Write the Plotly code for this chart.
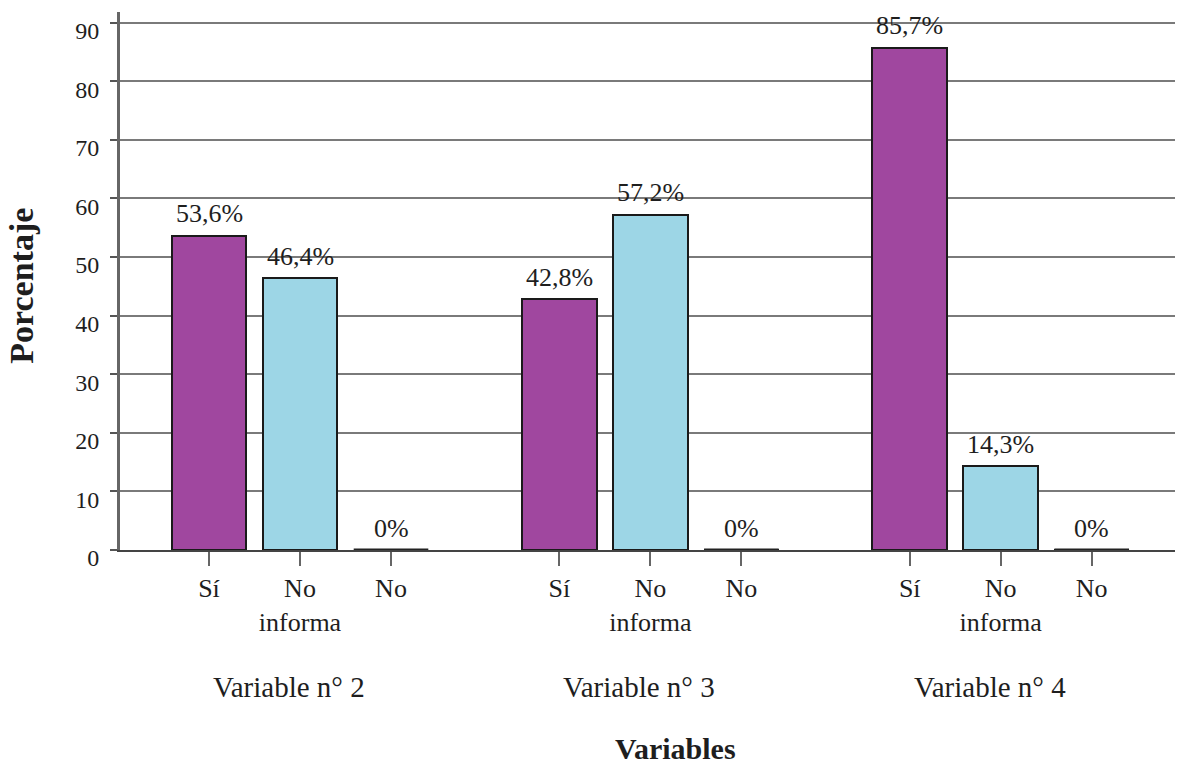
import plotly.graph_objects as go

# Data
groups = ["Variable n° 2", "Variable n° 3", "Variable n° 4"]
answers = ["Sí", "No<br>informa", "No"]
si_values = [53.6, 42.8, 85.7]
no_informa_values = [46.4, 57.2, 14.3]
no_values = [0.0, 0.0, 0.0]

series = [si_values, no_informa_values, no_values]
colors = ["#A0479F", "#9DD6E6", "#FFFFFF"]

FONT = "Liberation Serif, Times New Roman, serif"
INK = "#1e1e1e"

# x layout: three answers per group, groups separated by a wider gap
step = 1.0
group_gap = 3.85
bar_w = 0.82

def xpos(g, a):
    return g * group_gap + a * step

def pct(v):
    return ("%.1f" % v).replace(".", ",") + "%" if v else "0%"

fig = go.Figure()

tickvals, ticktext = [], []
for a, (vals, col) in enumerate(zip(series, colors)):
    xs = [xpos(g, a) for g in range(len(groups))]
    tickvals += xs
    ticktext += [answers[a]] * len(groups)
    fig.add_trace(go.Bar(
        x=xs, y=vals, width=bar_w,
        marker=dict(color=col, line=dict(color="#1a1a1a", width=2)),
        showlegend=False,
    ))
    for x, v in zip(xs, vals):
        # value label above each bar
        fig.add_annotation(x=x, y=v, text=pct(v), showarrow=False,
                           yanchor="middle", yshift=22,
                           font=dict(family=FONT, size=26, color=INK))
        # zero-height bars are drawn as a flat dark line at their value
        if v == 0:
            fig.add_trace(go.Scatter(
                x=[x - bar_w / 2, x + bar_w / 2], y=[v, v], mode="lines",
                line=dict(color="#222", width=3), showlegend=False,
                hoverinfo="skip"))

for g, name in enumerate(groups):
    fig.add_annotation(x=xpos(g, 1) - 0.12, y=-0.2546, xref="x", yref="paper",
                       yanchor="middle", text=name, showarrow=False,
                       font=dict(family=FONT, size=29, color=INK))

# axis titles
fig.add_annotation(x=0.527, y=-0.404, xref="paper", yref="paper",
                   yanchor="bottom", text="<b>Variables</b>", showarrow=False,
                   font=dict(family=FONT, size=30, color=INK))
fig.add_annotation(x=-0.093, y=0.491, xref="paper", yref="paper",
                   xanchor="center", yanchor="middle", textangle=-90,
                   text="<b>Porcentaje</b>", showarrow=False,
                   font=dict(family=FONT, size=34, color=INK))

fig.update_layout(
    width=1179, height=768,
    margin=dict(l=120, r=4, t=12, b=218),
    plot_bgcolor="white", paper_bgcolor="white",
    bargap=0,
    xaxis=dict(
        range=[-0.978, 10.615],
        tickvals=tickvals, ticktext=ticktext,
        ticks="outside", ticklen=14, tickwidth=2, tickcolor="#666",
        showline=True, linecolor="#444", linewidth=2,
        showgrid=False, zeroline=False,
        tickfont=dict(family=FONT, size=26, color=INK),
    ),
    yaxis=dict(
        range=[0, 91.8], tickvals=list(range(0, 91, 10)),
        ticks="outside", ticklen=7, tickwidth=2, tickcolor="#555",
        showline=True, linecolor="#666", linewidth=3,
        showgrid=True, gridcolor="#7a7a7a", gridwidth=2,
        zeroline=False, ticklabelshift=8, ticklabelstandoff=6,
        tickfont=dict(family=FONT, size=24, color=INK),
    ),
)

fig.write_html("out.html")
